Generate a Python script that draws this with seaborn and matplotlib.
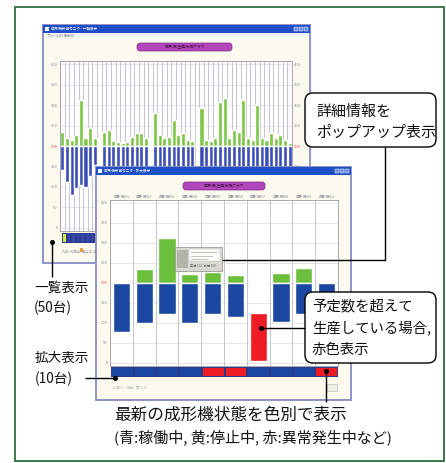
import numpy as np
import pandas as pd
import matplotlib
matplotlib.use("Agg")
import matplotlib.pyplot as plt
from matplotlib.patches import Rectangle, FancyBboxPatch
from matplotlib.colors import ListedColormap
import seaborn as sns

sns.set_theme(style="white")
plt.rcParams["font.family"] = ["Noto Sans CJK JP", "DejaVu Sans"]

W, H = 446, 463

# ---- 一覧表示 (50台): production above plan (green) / remaining to plan (blue)
overview_machines = [f"{i:02d}" for i in range(1, 51)]
overview_over = [34, 20, 15, 27, 113, 20, 44, 20, 0, 34,
                 39, 12, 10, 7, 10, 22, 32, 32, 20, 0,
                 81, 27, 20, 22, 64, 27, 32, 15, 12, 0,
                 93, 15, 12, 20, 108, 118, 20, 39, 34, 113,
                 20, 15, 100, 20, 15, 32, 20, 27, 15, 7]
overview_remaining = [-59, -88, -120, -103, -96, -100, -74, -47, 0, -70,
                      -82, -64, -90, -76, -58, -88, -72, -95, -66, 0,
                      -80, -62, -74, -92, -68, -84, -60, -78, -86, 0,
                      -72, -64, -96, -70, -58, -82, -76, -90, -66, -74,
                      -88, -62, -80, -70, -94, -68, -76, -84, -60, -72]
# 0: 稼働中, 1: 停止中, 2: 異常発生中
overview_status = [1, 0, 0, 0, 0, 0, 0, 2, 2, 0,
                   0, 0, 0, 0, 0, 0, 0, 0, 0, 2,
                   0, 0, 0, 0, 0, 0, 0, 0, 0, 2,
                   0, 0, 0, 0, 0, 0, 0, 0, 0, 0,
                   0, 0, 0, 0, 0, 0, 0, 0, 0, 0]

# ---- 拡大表示 (10台)
detail_machines = [f"成形機{i:02d}" for i in range(1, 11)]
detail_over = [0, 35, 112, 22, 28, 20, 0, 25, 38, 0]
detail_remaining = [-122, -100, -78, -100, -78, -85, 0, -98, -78, -70]
detail_excess_index = 6
detail_excess_low, detail_excess_high = -195, -75
detail_status = [0, 0, 0, 0, 2, 2, 0, 0, 0, 2]

tick_values = [-200, -150, -100, -50, 0, 50, 100, 150, 200]
tick_labels = ["0", "50", "100", "150", "200", "250", "300", "350", "400"]
plan_tick = 4

STATUS_BACK = ["#3446b2", "#d9ec3c", "#e8203a"]
STATUS_FRONT = ["#1c47a0", "#e8d820", "#ee1c24"]

fig = plt.figure(figsize=(W / 100, H / 100), dpi=100)
fig.patch.set_facecolor("white")


def px_axes(x0, y0, x1, y1, z):
    ax = fig.add_axes([x0 / W, 1 - y1 / H, (x1 - x0) / W, (y1 - y0) / H])
    ax.set_zorder(z)
    return ax


def canvas(z):
    ax = px_axes(0, 0, W, H, z)
    ax.set_xlim(0, W)
    ax.set_ylim(H, 0)
    ax.axis("off")
    ax.patch.set_visible(False)
    return ax


def window(cv, x0, y0, x1, y1, title, pill):
    cv.add_patch(Rectangle((x0, y0), x1 - x0, y1 - y0, fc="#fcfaee",
                           ec="#8e94c6", lw=1.4))
    cv.add_patch(Rectangle((x0, y0), x1 - x0, 7.5, fc="#1f4fc6", ec="none"))
    cv.add_patch(Rectangle((x0 + 1.5, y0 + 1.5), 4, 4, fc="white", ec="none"))
    cv.text(x0 + 8, y0 + 3.8, title, fontsize=2.6, color="white", va="center")
    for k in range(3):
        cv.add_patch(Rectangle((x1 - 16 + k * 5, y0 + 1.5), 4, 4.5,
                               fc="#6f8fe0", ec="white", lw=0.3))
    px0, py0, px1, py1 = pill
    cv.add_patch(FancyBboxPatch((px0, py0), px1 - px0, py1 - py0,
                                boxstyle="round,pad=0,rounding_size=3",
                                fc="#b446bc", ec="#7d2a86", lw=0.5))
    cv.text((px0 + px1) / 2, (py0 + py1) / 2, "成形機 生産状況グラフ",
            fontsize=2.8, color="#3a1040", ha="center", va="center")


def bar_chart(ax, names, over, remaining, green, blue, width):
    d_over = pd.DataFrame({"machine": names, "value": over})
    d_rem = pd.DataFrame({"machine": names, "value": remaining})
    sns.barplot(data=d_over, x="machine", y="value", color=green,
                saturation=1, width=width, errorbar=None, ax=ax, zorder=2)
    sns.barplot(data=d_rem, x="machine", y="value", color=blue,
                saturation=1, width=width, errorbar=None, ax=ax, zorder=2)
    ax.set_xlabel("")
    ax.set_ylabel("")
    ax.set_xlim(-0.5, len(names) - 0.5)
    ax.set_yticks(tick_values)
    ax.set_yticklabels(tick_labels)
    ax.grid(axis="y", color="#dedbe0", lw=0.5, zorder=0)
    for k in range(len(names) + 1):
        ax.axvline(k - 0.5, color="#c4c4d4", lw=0.7, zorder=1)
    ax.set_facecolor("white")
    for s in ax.spines.values():
        s.set_color("#9a9aa8")
        s.set_linewidth(0.6)


def style_ticks(ax, both_sides):
    ax.tick_params(axis="y", labelsize=3, colors="#8c8c98", length=0, pad=1.5,
                   labelright=both_sides)
    for i, t in enumerate(ax.yaxis.get_major_ticks()):
        c = "#e05050" if i == plan_tick else "#8c8c98"
        t.label1.set_color(c)
        t.label2.set_color(c)


def status_strip(ax, codes, colors):
    sns.heatmap(np.array([codes]), cmap=ListedColormap(colors), vmin=-0.5,
                vmax=2.5, cbar=False, xticklabels=False, yticklabels=False,
                ax=ax, linewidths=0.25, linecolor="#2b3c8a")


# ---------------- overview window (back)
cv0 = canvas(0)
window(cv0, 43, 25, 310, 263, "成形機稼働モニタ - 一覧表示", (137, 43, 232, 51))
cv0.add_patch(Rectangle((44, 33), 265, 5, fc="#f4f4f4", ec="none"))
cv0.text(47, 35.5, "ファイル(F)  表示(V)", fontsize=2.2, color="#777777", va="center")
cv0.text(62, 251, "凡例  稼働中  停止中  異常", fontsize=2.4, color="#9a9a9a", va="center")
cv0.add_patch(Rectangle((80, 248), 3, 4, fc="#f0a040", ec="none"))

axb = px_axes(60, 61, 292, 231, 1)
bar_chart(axb, overview_machines, overview_over, overview_remaining,
          "#7cc545", "#3a4cb6", 0.88)
axb.set_ylim(-208, 208)
axb.set_xticks([])
style_ticks(axb, True)

axbs = px_axes(62, 233, 292, 243, 1)
status_strip(axbs, overview_status, STATUS_BACK)

# ---------------- detail window (front)
cv1 = canvas(2)
window(cv1, 96, 167, 351, 400, "成形機稼働モニタ - 拡大表示", (183, 182, 265, 190))
cv1.text(112, 388, "≪ 前へ   50台   次へ ≫", fontsize=2.6, color="#9a9a9a", va="center")
cv1.add_patch(Rectangle((327, 384), 10, 7, fc="#efefe6", ec="#b0b0b0", lw=0.4))

axf = px_axes(110, 200, 338, 366, 3)
bar_chart(axf, detail_machines, detail_over, detail_remaining,
          "#6cbf3c", "#1c47a0", 0.76)
axf.bar(detail_excess_index, detail_excess_high - detail_excess_low,
        bottom=detail_excess_low, width=0.76, color="#ee1c24", zorder=2)
axf.set_ylim(-207.5, 207.5)
axf.tick_params(axis="x", labeltop=True, labelbottom=False, labelsize=2.8,
                colors="#8c8c98", length=0, pad=1)
style_ticks(axf, False)

axfs = px_axes(111, 367, 338, 377, 3)
status_strip(axfs, detail_status, STATUS_FRONT)

# ---------------- annotations (top layer)
cv2 = canvas(4)
cv2.add_patch(Rectangle((15, 7), 429, 454, fill=False, ec="#2f6e3c", lw=1.3))

# popup with detail information
cv2.add_patch(Rectangle((175, 247), 47, 24, fc="#d9d9d2", ec="#9c9c9c", lw=0.6))
cv2.add_patch(Rectangle((177, 250), 11, 18, fc="#b4b4ac", ec="none"))
cv2.add_patch(Rectangle((189, 249), 31, 12, fc="#fbfbf8", ec="#c0c0c0", lw=0.3))
for k, ty in enumerate([252, 255.5, 259]):
    cv2.plot([191, 217 - 5 * k], [ty, ty], color="#a8a8a8", lw=0.5)
cv2.text(190, 265.5, "実績 312 / 計画 200", fontsize=2.2, color="#6a6a6a", va="center")

LINE = dict(color="black", lw=1.0, solid_capstyle="butt")
DOT = dict(marker="o", ms=2.6, color="black", ls="none")
TXT = dict(color="#111111", va="center", ha="left")

# 詳細情報をポップアップ表示
cv2.add_patch(FancyBboxPatch((305, 93), 131, 54,
                             boxstyle="round,pad=0,rounding_size=8",
                             fc="white", ec="black", lw=1.0))
cv2.text(316, 112, "詳細情報を", fontsize=10.8, **TXT)
cv2.text(316, 133, "ポップアップ表示", fontsize=10.8, **TXT)
cv2.plot([385, 385, 222], [147, 260, 260], **LINE)

# 予定数を超えて生産している場合, 赤色表示
cv2.add_patch(FancyBboxPatch((305, 292), 131, 71,
                             boxstyle="round,pad=0,rounding_size=8",
                             fc="white", ec="black", lw=1.0))
cv2.text(312, 306, "予定数を超えて", fontsize=10.4, **TXT)
cv2.text(312, 328, "生産している場合,", fontsize=10.4, **TXT)
cv2.text(312, 350, "赤色表示", fontsize=10.4, **TXT)
cv2.plot([261, 305], [328, 328], **LINE)
cv2.plot([261], [328], **DOT)

# 一覧表示 / 拡大表示
cv2.text(34, 288, "一覧表示", fontsize=9.8, **TXT)
cv2.text(34, 308, "(50台)", fontsize=9.8, **TXT)
cv2.plot([52, 52], [242, 277], **LINE)
cv2.plot([52], [242], **DOT)

cv2.text(35, 358, "拡大表示", fontsize=9.8, **TXT)
cv2.text(35, 379, "(10台)", fontsize=9.8, **TXT)
cv2.plot([85, 115], [378, 378], **LINE)
cv2.plot([115], [378], **DOT)

# 最新の成形機状態
cv2.plot([326, 326], [371, 402], **LINE)
cv2.plot([326], [371], **DOT)
cv2.text(114, 415, "最新の成形機状態を色別で表示", fontsize=12, **TXT)
cv2.text(114, 437, "(青:稼働中, 黄:停止中, 赤:異常発生中など)", fontsize=10.8, **TXT)

fig.savefig("out.png", dpi=100, facecolor="white")
